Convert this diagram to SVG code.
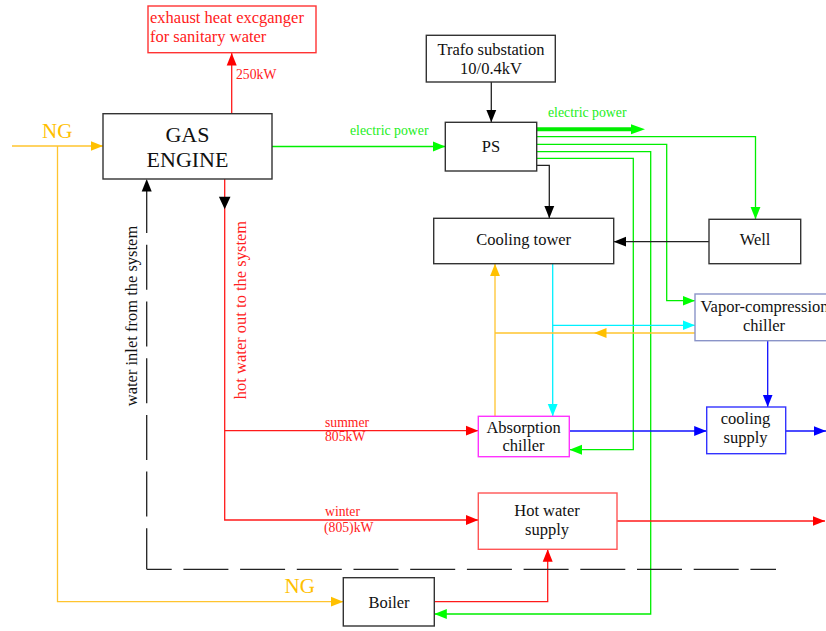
<svg xmlns="http://www.w3.org/2000/svg" width="826" height="631" viewBox="0 0 826 631">
<style>
  text { font-family: "Liberation Serif", "Times New Roman", serif; }
  .box { fill: #ffffff; stroke: #333333; stroke-width: 1.4; }
  .lbl { font-size: 16.5px; fill: #111111; text-anchor: middle; }
  .small { font-size: 13.7px; }
  .ln { fill: none; stroke-width: 1.3; }
  .g { stroke: #00ee00; }
  .k { stroke: #222222; }
  .r { stroke: #ff1a1a; }
  .o { stroke: #ffc42e; }
  .b { stroke: #1010ff; }
  .c { stroke: #00f0ff; }
  .gt { fill: #22ee22; }
  .rt { fill: #ff2020; }
  .ot { fill: #ffc000; }
</style>
<defs>
  <marker id="ak" markerUnits="userSpaceOnUse" markerWidth="13" markerHeight="11" refX="12.5" refY="5.5" orient="auto"><path d="M0,0.5 L12.5,5.5 L0,10.5 z" fill="#000000"/></marker>
  <marker id="ag" markerUnits="userSpaceOnUse" markerWidth="13" markerHeight="11" refX="12.5" refY="5.5" orient="auto"><path d="M0,0.5 L12.5,5.5 L0,10.5 z" fill="#00ff00"/></marker>
  <marker id="ar" markerUnits="userSpaceOnUse" markerWidth="13" markerHeight="11" refX="12.5" refY="5.5" orient="auto"><path d="M0,0.5 L12.5,5.5 L0,10.5 z" fill="#ff0000"/></marker>
  <marker id="ao" markerUnits="userSpaceOnUse" markerWidth="13" markerHeight="11" refX="12.5" refY="5.5" orient="auto"><path d="M0,0.5 L12.5,5.5 L0,10.5 z" fill="#ffc000"/></marker>
  <marker id="ab" markerUnits="userSpaceOnUse" markerWidth="13" markerHeight="11" refX="12.5" refY="5.5" orient="auto"><path d="M0,0.5 L12.5,5.5 L0,10.5 z" fill="#0000ff"/></marker>
  <marker id="ac" markerUnits="userSpaceOnUse" markerWidth="13" markerHeight="11" refX="12.5" refY="5.5" orient="auto"><path d="M0,0.5 L12.5,5.5 L0,10.5 z" fill="#00ffff"/></marker>
</defs>
<rect width="826" height="631" fill="#ffffff"/>

<g id="connectors">
  <!-- natural gas -->
  <path class="ln o" d="M12,146 H103" marker-end="url(#ao)"/>
  <path class="ln o" d="M57.5,146 V601.7 H343.3" marker-end="url(#ao)"/>
  <!-- exhaust -->
  <path class="ln r" d="M231.7,113.7 V53" marker-end="url(#ar)"/>
  <!-- engine to PS -->
  <path class="ln g" d="M272,146.5 H445.3" marker-end="url(#ag)"/>
  <!-- trafo to PS -->
  <path class="ln k" d="M491.3,82 V122.3" marker-end="url(#ak)"/>
  <!-- thick electric power out -->
  <path d="M537,129.3 H632" fill="none" stroke="#00ee00" stroke-width="4"/>
  <polygon points="631,124.3 645,129.3 631,134.3" fill="#00ff00"/>
  <!-- PS feeders -->
  <path class="ln g" d="M536.7,136.7 H755.5 V219.3" marker-end="url(#ag)"/>
  <path class="ln g" d="M536.7,144.3 H666.7 V300.7 H695" marker-end="url(#ag)"/>
  <path class="ln g" d="M536.7,151.7 H650.7 V614 H434.3" marker-end="url(#ag)"/>
  <path class="ln g" d="M536.7,158.3 H633.3 V449.7 H569.5" marker-end="url(#ag)"/>
  <path class="ln k" d="M536.7,165.3 H549.3 V218.3" marker-end="url(#ak)"/>
  <!-- well to cooling tower -->
  <path class="ln k" d="M709,241.7 H613.7" marker-end="url(#ak)"/>
  <!-- cyan cooling water -->
  <path class="ln c" d="M552.7,263.7 V416.3" marker-end="url(#ac)"/>
  <path class="ln c" d="M552.7,325.3 H695" marker-end="url(#ac)"/>
  <!-- orange return -->
  <path class="ln o" d="M695,333 H594 H495" marker-mid="url(#ao)"/>
  <path class="ln o" d="M495,416.3 V263.7" marker-end="url(#ao)"/>
  <!-- hot water out -->
  <path class="ln r" d="M224.7,179 V520 H478.3" marker-end="url(#ar)"/>
  <path class="ln r" d="M224.7,430.7 H478.3" marker-end="url(#ar)"/>
  <polygon points="218.9,196.7 230.5,196.7 224.7,209.3" fill="#000000"/>
  <!-- blue cooling -->
  <path class="ln b" d="M569.3,431 H706.7" marker-end="url(#ab)"/>
  <path class="ln b" d="M767.7,340.7 V407" marker-end="url(#ab)"/>
  <path class="ln b" d="M785.7,431 H826" marker-end="url(#ab)"/>
  <!-- hot water supply -->
  <path class="ln r" d="M617,521 H825" marker-end="url(#ar)"/>
  <path class="ln r" d="M434.3,601.7 H547.7 V549.3" marker-end="url(#ar)"/>
  <!-- water inlet from the system (dashed) -->
  <path class="ln k" d="M146.7,569.3 H776" stroke-dasharray="45 11.7" stroke-dashoffset="20"/>
  <path class="ln k" d="M146.7,569.3 V179" stroke-dasharray="45 11.7" stroke-dashoffset="4" marker-end="url(#ak)"/>
</g>

<g id="labels">
  <text x="42" y="137.7" font-size="21" class="ot">NG</text>
  <text x="284.5" y="593" font-size="21" class="ot">NG</text>
  <text x="236" y="78.5" class="small rt">250kW</text>
  <text x="350" y="135" font-size="13.8" class="gt">electric power</text>
  <text x="548" y="117" font-size="13.8" class="gt">electric power</text>
  <text x="325" y="426.7" class="small rt">summer</text>
  <text x="325" y="440.5" class="small rt">805kW</text>
  <text x="325" y="516" class="small rt">winter</text>
  <text x="324" y="531.7" class="small rt">(805)kW</text>
  <text transform="translate(136.5,316) rotate(-90)" font-size="16.5" text-anchor="middle" fill="#111111">water inlet from the system</text>
  <text transform="translate(246,310) rotate(-90)" font-size="16.5" text-anchor="middle" class="rt">hot water out to the system</text>
</g>

<g id="exhaust">
  <rect x="148" y="6" width="168" height="46.7" fill="#ffffff" stroke="#ff3333" stroke-width="1.4"/>
  <text x="150" y="23" font-size="16.5" class="rt">exhaust heat excganger</text>
  <text x="150" y="42" font-size="16.5" class="rt">for sanitary water</text>
</g>

<g id="gas-engine">
  <rect class="box" x="103" y="113.7" width="169" height="65.3"/>
  <text x="187.5" y="142" font-size="22" text-anchor="middle" fill="#111111">GAS</text>
  <text x="187.5" y="166.7" font-size="22" text-anchor="middle" fill="#111111">ENGINE</text>
</g>

<g id="trafo">
  <rect class="box" x="426.3" y="35.3" width="129" height="46.7"/>
  <text class="lbl" x="491" y="54.5">Trafo substation</text>
  <text class="lbl" x="491" y="73.5">10/0.4kV</text>
</g>

<g id="ps">
  <rect class="box" x="445.3" y="122.3" width="91.4" height="48.7"/>
  <text class="lbl" x="491" y="152">PS</text>
</g>

<g id="cooling-tower">
  <rect class="box" x="433.7" y="218.3" width="180" height="45.4"/>
  <text class="lbl" x="523.7" y="244.5">Cooling tower</text>
</g>

<g id="well">
  <rect class="box" x="709" y="219.3" width="91.7" height="44.4"/>
  <text class="lbl" x="755" y="244.5">Well</text>
</g>

<g id="vapor-compression-chiller">
  <rect x="695" y="294" width="136" height="46.7" fill="#ffffff" stroke="#8a94c8" stroke-width="1.4"/>
  <text class="lbl" x="764.5" y="311.7">Vapor-compression</text>
  <text class="lbl" x="764" y="331.2">chiller</text>
</g>

<g id="absorption-chiller">
  <rect x="478.3" y="416.3" width="91" height="40.4" fill="#ffffff" stroke="#ff33ff" stroke-width="1.4"/>
  <text class="lbl" x="523.5" y="432.5">Absorption</text>
  <text class="lbl" x="523.5" y="451">chiller</text>
</g>

<g id="cooling-supply">
  <rect x="706.7" y="407" width="79" height="46.7" fill="#ffffff" stroke="#3333ff" stroke-width="1.4"/>
  <text class="lbl" x="745.5" y="423.5">cooling</text>
  <text class="lbl" x="745.5" y="443">supply</text>
</g>

<g id="hot-water-supply">
  <rect x="478.3" y="493" width="138.7" height="56.3" fill="#ffffff" stroke="#ff5555" stroke-width="1.4"/>
  <text class="lbl" x="547" y="516">Hot water</text>
  <text class="lbl" x="547" y="534.5">supply</text>
</g>

<g id="boiler">
  <rect class="box" x="343.3" y="577.7" width="91" height="48.3"/>
  <text class="lbl" x="389" y="608">Boiler</text>
</g>
</svg>
